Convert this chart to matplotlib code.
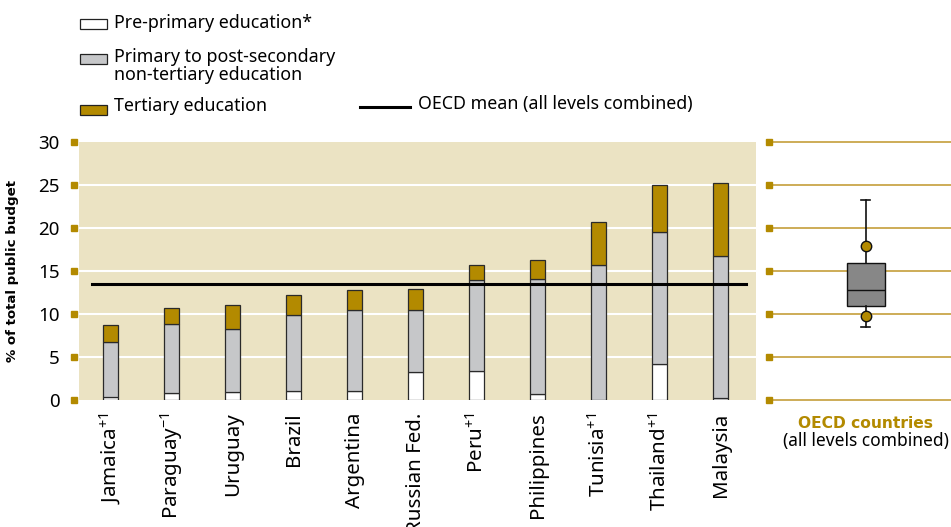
import numpy as np
import matplotlib
matplotlib.use("Agg")
import matplotlib.pyplot as plt
from matplotlib.patches import Rectangle
from matplotlib.lines import Line2D
import matplotlib.transforms as mtransforms

plt.rcParams['font.family'] = ['Noto Sans', 'DejaVu Sans']
plt.rcParams['mathtext.fontset'] = 'custom'
plt.rcParams['mathtext.rm'] = 'Noto Sans'
plt.rcParams['mathtext.it'] = 'Noto Sans'

# data (% of total public budget)
countries = ['Jamaica$^{+1}$', 'Paraguay$^{-1}$', 'Uruguay', 'Brazil', 'Argentina',
             'Russian Fed.', 'Peru$^{+1}$', 'Philippines', 'Tunisia$^{+1}$',
             'Thailand$^{+1}$', 'Malaysia']
pre_primary = [0.35, 0.85, 0.95, 1.05, 1.05, 3.25, 3.4, 0.7, 0.0, 4.15, 0.25]
primary_total = [6.75, 8.85, 8.3, 9.9, 10.5, 10.5, 14.0, 14.1, 15.75, 19.55, 16.75]
tertiary_total = [8.7, 10.7, 11.05, 12.25, 12.8, 12.85, 15.75, 16.3, 20.75, 24.95, 25.2]
oecd_mean = 13.5

# OECD box plot values
oecd_whislo, oecd_p10, oecd_q1, oecd_med, oecd_q3, oecd_p90, oecd_whishi = 8.5, 9.8, 10.9, 12.8, 15.9, 17.95, 23.2

GOLD = '#B38A00'
GRAY = '#C6C7C9'
BEIGE = '#EBE3C3'
LINEGOLD = '#C9A64A'

pre = np.array(pre_primary)
prim = np.array(primary_total) - pre
tert = np.array(tertiary_total) - np.array(primary_total)

fig = plt.figure(figsize=(9.51, 5.27), dpi=100)
W, H = 951, 527

def fx(px):
    return px / W

def fy(py):
    return 1 - py / H

ax = fig.add_axes([fx(79), fy(400), fx(756) - fx(79), fy(142) - fy(400)])
ax.set_facecolor(BEIGE)
x = np.arange(len(countries))
bw = 0.246
ec = '#2a2a2a'
ax.bar(x, pre, bw, color='white', edgecolor=ec, lw=0.9, zorder=3)
ax.bar(x, prim, bw, bottom=pre, color=GRAY, edgecolor=ec, lw=0.9, zorder=3)
ax.bar(x, tert, bw, bottom=pre + prim, color=GOLD, edgecolor=ec, lw=0.9, zorder=3)
ax.plot([-0.31, 10.42], [oecd_mean, oecd_mean], color='black', lw=2.2, zorder=4)

ax.set_xlim(-0.52, 10.58)
ax.set_ylim(0, 30)
yt = np.arange(0, 31, 5)
ax.set_yticks(yt)
ax.set_yticklabels([str(v) for v in yt], fontsize=13.5)
for v in yt[1:-1]:
    ax.axhline(v, color='white', lw=1.5, zorder=1)
ax.tick_params(axis='y', length=0, pad=14)
ax.set_xticks(x)
ax.set_xticklabels(countries, rotation=90, fontsize=14.8)
ax.tick_params(axis='x', length=0, pad=9)
for s in ax.spines.values():
    s.set_visible(False)
# gold square ticks
trans = mtransforms.blended_transform_factory(ax.transAxes, ax.transData)
ax.plot([-0.0075] * len(yt), yt, 's', color=GOLD, ms=4.5, transform=trans, clip_on=False)

ax.set_ylabel('% of total public budget', fontsize=9.6, fontweight='bold', family='DejaVu Sans')
ax.yaxis.set_label_coords(-(79 - 19) / (756 - 79), 0.5)

# right panel with OECD box
ax2 = fig.add_axes([fx(772), fy(400), 1 - fx(772), fy(142) - fy(400)])
ax2.set_xlim(0, 1)
ax2.set_ylim(0, 30)
ax2.axis('off')
for v in yt:
    ax2.axhline(v, color=LINEGOLD, lw=1.3, zorder=1, clip_on=False)
trans2 = mtransforms.blended_transform_factory(ax2.transAxes, ax2.transData)
ax2.plot([-0.017] * len(yt), yt, 's', color=GOLD, ms=4.5, transform=trans2, clip_on=False)
stats = [dict(med=oecd_med, q1=oecd_q1, q3=oecd_q3, whislo=oecd_whislo, whishi=oecd_whishi, fliers=[])]
ax2.bxp(stats, positions=[0.523], widths=0.212, capwidths=0.05, patch_artist=True,
        boxprops=dict(facecolor='#878787', edgecolor='#111111', lw=1),
        medianprops=dict(color='#111111', lw=1),
        whiskerprops=dict(color='#111111', lw=1.2),
        capprops=dict(color='#111111', lw=1.2), manage_ticks=False, zorder=3)
ax2.plot([0.523, 0.523], [oecd_p10, oecd_p90], 'o', color=GOLD, mec='#111111', mew=1, ms=7.5, zorder=4)
ax2.set_xlim(0, 1)
fig.text(fx(866), fy(424), 'OECD countries', color=GOLD, fontweight='bold', fontsize=11.2,
         family='DejaVu Sans', ha='center', va='center')
fig.text(fx(866), fy(441), '(all levels combined)', color='black', fontsize=12.5,
         ha='center', va='center')

# legend
leg = [('white', 'Pre-primary education*', 24),
       (GRAY, 'Primary to post-secondary\nnon-tertiary education', 59),
       (GOLD, 'Tertiary education', 110)]
for col, lab, yc in leg:
    fig.patches.append(Rectangle((fx(80), fy(yc + 5)), fx(27), fy(yc - 5) - fy(yc + 5),
                                 facecolor=col, edgecolor='#222222', lw=0.9,
                                 transform=fig.transFigure))
for lab, ytop in [('Pre-primary education*', 22.5), ('Primary to post-secondary', 57.5),
                  ('non-tertiary education', 74.5), ('Tertiary education', 106)]:
    fig.text(fx(114), fy(ytop), lab, fontsize=12.8, ha='left', va='center')
fig.lines.append(Line2D([fx(360), fx(410)], [fy(107), fy(107)], color='black', lw=2.2,
                        transform=fig.transFigure))
fig.text(fx(418), fy(104), 'OECD mean (all levels combined)', fontsize=12.8, ha='left', va='center')

fig.savefig('out.png', dpi=100)
